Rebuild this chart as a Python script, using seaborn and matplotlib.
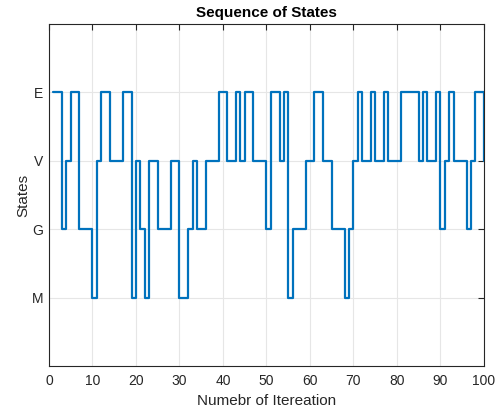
import numpy as np
import pandas as pd
import matplotlib
matplotlib.use("Agg")
import matplotlib.pyplot as plt
import seaborn as sns

# State labels and their numeric levels on the y axis.
state_names = ["M", "G", "V", "E"]
state_levels = [1, 2, 3, 4]

# Iterations 1..100 and the state visited at each one.
iterations = list(range(1, 101))
states = [
    "E", "E", "G", "V", "E", "E", "G", "G", "G", "M",
    "V", "E", "E", "V", "V", "V", "E", "E", "M", "V",
    "G", "M", "V", "V", "G", "G", "G", "V", "V", "M",
    "M", "G", "V", "G", "G", "V", "V", "V", "E", "E",
    "V", "V", "E", "V", "E", "E", "V", "V", "V", "G",
    "E", "E", "V", "E", "M", "G", "G", "G", "V", "V",
    "E", "E", "V", "V", "G", "G", "G", "M", "G", "V",
    "E", "V", "V", "E", "V", "V", "E", "V", "V", "V",
    "E", "E", "E", "E", "V", "E", "V", "V", "E", "G",
    "V", "E", "V", "V", "V", "G", "V", "E", "E", "V",
]

x_ticks = list(range(0, 101, 10))

###################################

sns.set_style("whitegrid")
plt.rcParams["font.family"] = ["Liberation Sans", "DejaVu Sans"]

level_of = dict(zip(state_names, state_levels))
df = pd.DataFrame({"iter": iterations,
                   "level": [level_of[s] for s in states]})

fig = plt.figure(figsize=(5.03, 4.16), dpi=100)
ax = fig.add_axes([0.0974, 0.1202, 0.8648, 0.8221])

sns.lineplot(data=df, x="iter", y="level", drawstyle="steps-post",
             color="#0072BD", linewidth=1.6, ax=ax, sort=False)

ax.set(xlim=[0, 100], ylim=[0, 5])
ax.set_xticks(x_ticks)
ax.set_yticks(state_levels)
ax.set_yticklabels(state_names)

# MATLAB-like box with inward ticks on all sides.
dark = "#262626"
for sp in ax.spines.values():
    sp.set_visible(True)
    sp.set_color(dark)
    sp.set_linewidth(0.8)
ax.tick_params(direction="in", length=4, width=0.8, colors=dark,
               labelsize=10, top=True, right=True,
               labeltop=False, labelright=False)
ax.tick_params(axis="x", pad=6)
ax.tick_params(axis="y", pad=4)
ax.grid(True, color="#e6e6e6", linewidth=0.8)

ax.set_xlabel("Numebr of Itereation", fontsize=11, color=dark, labelpad=4)
ax.set_ylabel("States", fontsize=11, color=dark, labelpad=1)
ax.set_title("Sequence of States", fontsize=11, fontweight="bold",
             color="black", pad=5)

fig.savefig("out.png", dpi=100)
